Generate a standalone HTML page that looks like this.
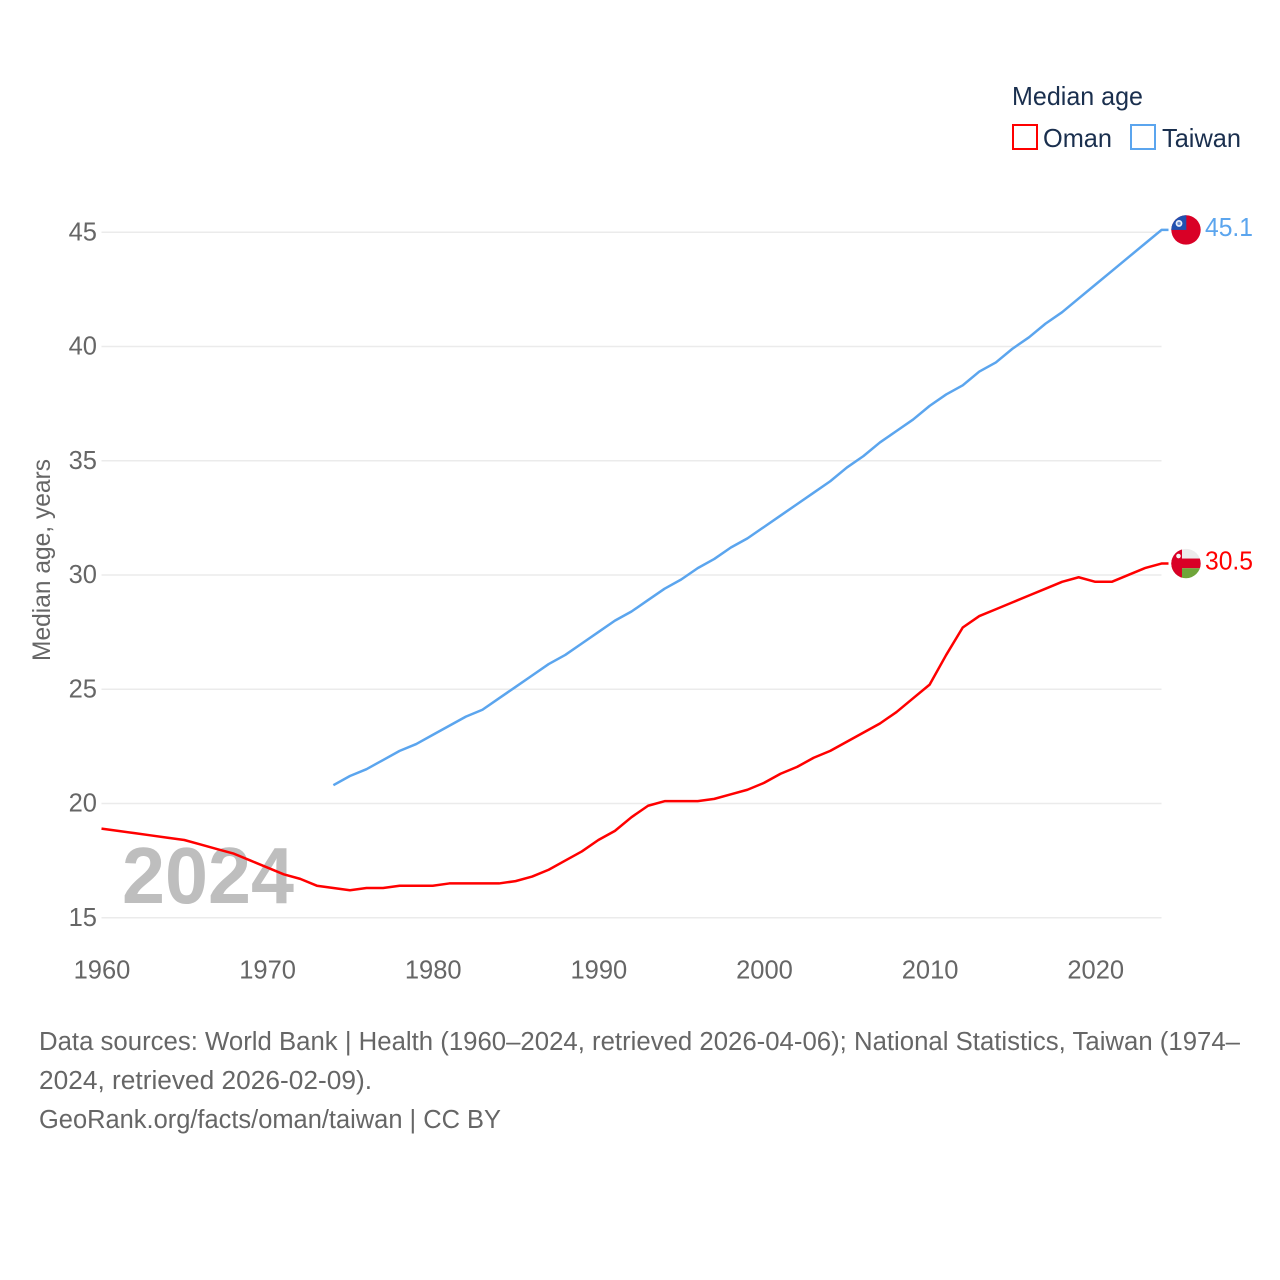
<!DOCTYPE html>
<html lang="en">
<head>
<meta charset="utf-8">
<title>Median age: Oman and Taiwan</title>
<style>
html,body{margin:0;padding:0;background:#fff;width:1280px;height:1280px;overflow:hidden}
svg{display:block}
text{font-family:"Liberation Sans",sans-serif}
</style>
</head>
<body>
<svg id="chart" xmlns="http://www.w3.org/2000/svg" width="1280" height="1280" viewBox="0 0 1280 1280">
  <defs>
    <clipPath id="flag-clip"><circle cx="0" cy="0" r="14.7"/></clipPath>
  </defs>
  <rect width="1280" height="1280" fill="#fff"/>
  <g id="grid"></g>
  <text x="122" y="903" font-size="80" font-weight="bold" fill="#bebebe" textLength="172" lengthAdjust="spacingAndGlyphs">2024</text>
  <g id="yticks"></g>
  <g id="xticks"></g>
  <text transform="translate(50,661) rotate(-90)" font-size="25" fill="#666" textLength="202" lengthAdjust="spacingAndGlyphs">Median age, years</text>

  <path id="line-oman" fill="none" stroke="#ff0000" stroke-width="2.5" stroke-linejoin="round"/>
  <path id="line-taiwan" fill="none" stroke="#5ba5ee" stroke-width="2.5" stroke-linejoin="round"/>

  <g id="flag-taiwan">
    <g clip-path="url(#flag-clip)">
      <rect x="-15" y="-15" width="30" height="30" fill="#d90026"/>
      <rect x="-15" y="-15" width="15.3" height="15" fill="#2151b0"/>
      <circle cx="-7" cy="-6.5" r="3.4" fill="#e8eefa"/>
      <circle cx="-7" cy="-6.5" r="1.7" fill="#6f8fd0"/>
    </g>
  </g>
  <g id="flag-oman">
    <g clip-path="url(#flag-clip)">
      <rect x="-15" y="-15" width="30" height="10" fill="#ececec"/>
      <rect x="-15" y="-5" width="30" height="9.7" fill="#d90026"/>
      <rect x="-15" y="4.7" width="30" height="10.3" fill="#6fa53a"/>
      <rect x="-15" y="-15" width="11" height="30" fill="#d90026"/>
      <circle cx="-7.5" cy="-7.5" r="2.3" fill="#f4f4f4"/>
    </g>
  </g>
  <text id="value-taiwan" x="1205" font-size="25.5" fill="#5ba5ee" textLength="48" lengthAdjust="spacingAndGlyphs"></text>
  <text id="value-oman" x="1205" font-size="25.5" fill="#ff0000" textLength="48" lengthAdjust="spacingAndGlyphs"></text>

  <g>
    <text x="1012" y="105" font-size="26" fill="#1a2f4e" textLength="131" lengthAdjust="spacingAndGlyphs">Median age</text>
    <rect x="1013" y="125" width="24" height="24" fill="none" stroke="#ff0000" stroke-width="2"/>
    <text x="1043" y="147" font-size="26" fill="#1a2f4e" textLength="69" lengthAdjust="spacingAndGlyphs">Oman</text>
    <rect x="1131" y="125" width="24" height="24" fill="none" stroke="#5ba5ee" stroke-width="2"/>
    <text x="1162" y="147" font-size="26" fill="#1a2f4e" textLength="79" lengthAdjust="spacingAndGlyphs">Taiwan</text>
  </g>

  <g font-size="25.5" fill="#666">
    <text x="39" y="1050" textLength="1201" lengthAdjust="spacingAndGlyphs">Data sources: World Bank | Health (1960–2024, retrieved 2026-04-06); National Statistics, Taiwan (1974–</text>
    <text x="39" y="1089" textLength="333" lengthAdjust="spacingAndGlyphs">2024, retrieved 2026-02-09).</text>
    <text x="39" y="1128" textLength="462" lengthAdjust="spacingAndGlyphs">GeoRank.org/facts/oman/taiwan | CC BY</text>
  </g>
</svg>
<script>
const yTickValues = [15, 20, 25, 30, 35, 40, 45];
const xTickValues = [1960, 1970, 1980, 1990, 2000, 2010, 2020];
const omanStartYear = 1960;
const omanValues = [18.9, 18.8, 18.7, 18.6, 18.5, 18.4, 18.2, 18.0, 17.8, 17.5, 17.2, 16.9, 16.7, 16.4, 16.3, 16.2, 16.3, 16.3, 16.4, 16.4, 16.4, 16.5, 16.5, 16.5, 16.5, 16.6, 16.8, 17.1, 17.5, 17.9, 18.4, 18.8, 19.4, 19.9, 20.1, 20.1, 20.1, 20.2, 20.4, 20.6, 20.9, 21.3, 21.6, 22.0, 22.3, 22.7, 23.1, 23.5, 24.0, 24.6, 25.2, 26.5, 27.7, 28.2, 28.5, 28.8, 29.1, 29.4, 29.7, 29.9, 29.7, 29.7, 30.0, 30.3, 30.5];
const taiwanStartYear = 1974;
const taiwanValues = [20.8, 21.2, 21.5, 21.9, 22.3, 22.6, 23.0, 23.4, 23.8, 24.1, 24.6, 25.1, 25.6, 26.1, 26.5, 27.0, 27.5, 28.0, 28.4, 28.9, 29.4, 29.8, 30.3, 30.7, 31.2, 31.6, 32.1, 32.6, 33.1, 33.6, 34.1, 34.7, 35.2, 35.8, 36.3, 36.8, 37.4, 37.9, 38.3, 38.9, 39.3, 39.9, 40.4, 41.0, 41.5, 42.1, 42.7, 43.3, 43.9, 44.5, 45.1];

const SVG_NS = 'http://www.w3.org/2000/svg';
const plotLeft = 101.5, plotRight = 1161.5, plotBottom = 917.7, plotTop = 232.2;
function xScale(year) { return plotLeft + (year - 1960) * (plotRight - plotLeft) / (2024 - 1960); }
function yScale(value) { return plotBottom - (value - 15) * (plotBottom - plotTop) / (45 - 15); }

const gridGroup = document.getElementById('grid');
const yTickGroup = document.getElementById('yticks');
const xTickGroup = document.getElementById('xticks');

yTickValues.forEach(function (v) {
  const line = document.createElementNS(SVG_NS, 'line');
  
  
  line.setAttribute('x1', plotLeft);
  line.setAttribute('x2', plotRight);
  line.setAttribute('y1', yScale(v));
  line.setAttribute('y2', yScale(v));
  line.setAttribute('stroke', '#ebebeb');
  line.setAttribute('stroke-width', '1.5');
  gridGroup.appendChild(line);

  const label = document.createElementNS(SVG_NS, 'text');
  
  
  label.setAttribute('x', 97);
  label.setAttribute('y', yScale(v) + 8.2);
  label.setAttribute('text-anchor', 'end');
  label.setAttribute('font-size', '25.5');
  label.setAttribute('fill', '#666');
  label.textContent = v;
  yTickGroup.appendChild(label);
});

xTickValues.forEach(function (v) {
  const label = document.createElementNS(SVG_NS, 'text');
  
  
  label.setAttribute('x', xScale(v) + 0.5);
  label.setAttribute('y', 978.5);
  label.setAttribute('text-anchor', 'middle');
  label.setAttribute('font-size', '25.5');
  label.setAttribute('fill', '#666');
  label.textContent = v;
  xTickGroup.appendChild(label);
});

function linePath(values, startYear) {
  let d = values.map(function (v, i) {
    return (i ? 'L' : 'M') + xScale(startYear + i).toFixed(2) + ' ' + yScale(v).toFixed(2);
  }).join(' ');
  d += ' L' + (plotRight + 7) + ' ' + yScale(values[values.length - 1]).toFixed(2);
  return d;
}

document.getElementById('line-oman').setAttribute('d', linePath(omanValues, omanStartYear));
document.getElementById('line-taiwan').setAttribute('d', linePath(taiwanValues, taiwanStartYear));

const lastOman = omanValues[omanValues.length - 1];
const lastTaiwan = taiwanValues[taiwanValues.length - 1];
document.getElementById('flag-oman').setAttribute('transform', 'translate(1186,' + yScale(lastOman).toFixed(2) + ')');
document.getElementById('flag-taiwan').setAttribute('transform', 'translate(1186,' + yScale(lastTaiwan).toFixed(2) + ')');
const valueOman = document.getElementById('value-oman');
valueOman.setAttribute('y', yScale(lastOman) + 6);
valueOman.textContent = lastOman.toFixed(1);
const valueTaiwan = document.getElementById('value-taiwan');
valueTaiwan.setAttribute('y', yScale(lastTaiwan) + 6);
valueTaiwan.textContent = lastTaiwan.toFixed(1);
</script>
</body>
</html>
